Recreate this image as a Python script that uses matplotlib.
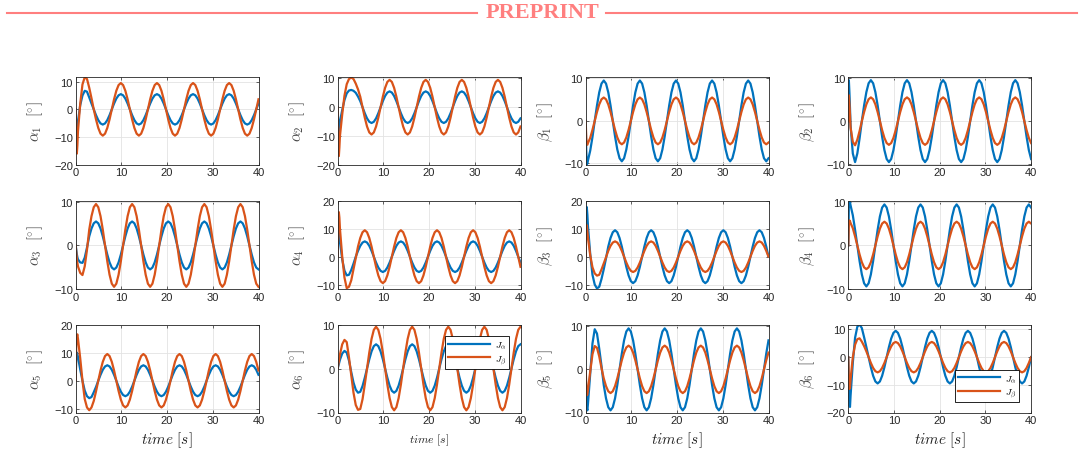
import matplotlib
matplotlib.use("Agg")
import matplotlib.pyplot as plt
from matplotlib.lines import Line2D

plt.rcParams['font.family'] = ['Liberation Sans', 'DejaVu Sans']
plt.rcParams['mathtext.fontset'] = 'cm'

# ---------------- data ----------------
time_s = [0, 0.12, 0.25, 0.37,
          0.494, 0.988, 1.481, 1.975, 2.469, 2.963, 3.457, 3.951, 4.444, 4.938, 5.432, 5.926, 6.42, 6.914, 7.407, 7.901,
          8.395, 8.889, 9.383, 9.877, 10.37, 10.864, 11.358, 11.852, 12.346, 12.84, 13.333, 13.827, 14.321, 14.815, 15.309, 15.802,
          16.296, 16.79, 17.284, 17.778, 18.272, 18.765, 19.259, 19.753, 20.247, 20.741, 21.235, 21.728, 22.222, 22.716, 23.21, 23.704,
          24.198, 24.691, 25.185, 25.679, 26.173, 26.667, 27.16, 27.654, 28.148, 28.642, 29.136, 29.63, 30.123, 30.617, 31.111, 31.605,
          32.099, 32.593, 33.086, 33.58, 34.074, 34.568, 35.062, 35.556, 36.049, 36.543, 37.037, 37.531, 38.025, 38.519, 39.012, 39.506,
          40.0]

alpha1_Ja = [0, -7, -10, -7.5,
             -4.5, 1.5, 5, 6.7, 6.4, 4.3, 2.1, 0, -2.1, -3.89, -5.08, -5.5, -5.08, -3.89, -2.1, 0,
             2.1, 3.89, 5.08, 5.5, 5.08, 3.89, 2.1, 0, -2.1, -3.89, -5.08, -5.5, -5.08, -3.89, -2.1, 0,
             2.1, 3.89, 5.08, 5.5, 5.08, 3.89, 2.1, 0, -2.1, -3.89, -5.08, -5.5, -5.08, -3.89, -2.1, 0,
             2.1, 3.89, 5.08, 5.5, 5.08, 3.89, 2.1, 0, -2.1, -3.89, -5.08, -5.5, -5.08, -3.89, -2.1, 0,
             2.1, 3.89, 5.08, 5.5, 5.08, 3.89, 2.1, 0, -2.1, -3.89, -5.08, -5.5, -5.08, -3.89, -2.1, 0,
             2.1]
alpha1_Jb = [0, -10, -16, -13,
             -8, 2, 9, 11.6, 11.0, 7.8, 4.0, 0, -3.64, -6.72, -8.78, -9.5, -8.78, -6.72, -3.64, 0,
             3.64, 6.72, 8.78, 9.5, 8.78, 6.72, 3.64, 0, -3.64, -6.72, -8.78, -9.5, -8.78, -6.72, -3.64, 0,
             3.64, 6.72, 8.78, 9.5, 8.78, 6.72, 3.64, 0, -3.64, -6.72, -8.78, -9.5, -8.78, -6.72, -3.64, 0,
             3.64, 6.72, 8.78, 9.5, 8.78, 6.72, 3.64, 0, -3.64, -6.72, -8.78, -9.5, -8.78, -6.72, -3.64, 0,
             3.64, 6.72, 8.78, 9.5, 8.78, 6.72, 3.64, 0, -3.64, -6.72, -8.78, -9.5, -8.78, -6.72, -3.64, 0,
             3.64]

alpha2_Ja = [0, -6, -9, -7,
             -5, -1, 2.5, 4.8, 5.8, 6.0, 5.7, 5.0, 3.7, 2.1, 0, -2.1, -3.89, -5.08, -5.5, -5.08,
             -3.89, -2.1, 0, 2.1, 3.89, 5.08, 5.5, 5.08, 3.89, 2.1, 0, -2.1, -3.89, -5.08, -5.5, -5.08,
             -3.89, -2.1, 0, 2.1, 3.89, 5.08, 5.5, 5.08, 3.89, 2.1, 0, -2.1, -3.89, -5.08, -5.5, -5.08,
             -3.89, -2.1, 0, 2.1, 3.89, 5.08, 5.5, 5.08, 3.89, 2.1, 0, -2.1, -3.89, -5.08, -5.5, -5.08,
             -3.89, -2.1, 0, 2.1, 3.89, 5.08, 5.5, 5.08, 3.89, 2.1, 0, -2.1, -3.89, -5.08, -5.5, -5.08,
             -3.89]
alpha2_Jb = [0, -11, -17, -14,
             -10, -2.5, 4, 8, 9.8, 10.3, 9.8, 8.2, 6.2, 3.64, 0, -3.64, -6.72, -8.78, -9.5, -8.78,
             -6.72, -3.64, 0, 3.64, 6.72, 8.78, 9.5, 8.78, 6.72, 3.64, 0, -3.64, -6.72, -8.78, -9.5, -8.78,
             -6.72, -3.64, 0, 3.64, 6.72, 8.78, 9.5, 8.78, 6.72, 3.64, 0, -3.64, -6.72, -8.78, -9.5, -8.78,
             -6.72, -3.64, 0, 3.64, 6.72, 8.78, 9.5, 8.78, 6.72, 3.64, 0, -3.64, -6.72, -8.78, -9.5, -8.78,
             -6.72, -3.64, 0, 3.64, 6.72, 8.78, 9.5, 8.78, 6.72, 3.64, 0, -3.64, -6.72, -8.78, -9.5, -8.78,
             -6.72]

beta1_Ja = [0, -7, -10.2, -10,
            -9.3, -7.0, -3.8, 0, 3.64, 6.72, 8.78, 9.5, 8.78, 6.72, 3.64, 0, -3.64, -6.72, -8.78, -9.5,
            -8.78, -6.72, -3.64, 0, 3.64, 6.72, 8.78, 9.5, 8.78, 6.72, 3.64, 0, -3.64, -6.72, -8.78, -9.5,
            -8.78, -6.72, -3.64, 0, 3.64, 6.72, 8.78, 9.5, 8.78, 6.72, 3.64, 0, -3.64, -6.72, -8.78, -9.5,
            -8.78, -6.72, -3.64, 0, 3.64, 6.72, 8.78, 9.5, 8.78, 6.72, 3.64, 0, -3.64, -6.72, -8.78, -9.5,
            -8.78, -6.72, -3.64, 0, 3.64, 6.72, 8.78, 9.5, 8.78, 6.72, 3.64, 0, -3.64, -6.72, -8.78, -9.5,
            -8.78]
beta1_Jb = [0, -4, -5.5, -5.6,
            -5.2, -4.0, -2.1, 0, 2.1, 3.89, 5.08, 5.5, 5.08, 3.89, 2.1, 0, -2.1, -3.89, -5.08, -5.5,
            -5.08, -3.89, -2.1, 0, 2.1, 3.89, 5.08, 5.5, 5.08, 3.89, 2.1, 0, -2.1, -3.89, -5.08, -5.5,
            -5.08, -3.89, -2.1, 0, 2.1, 3.89, 5.08, 5.5, 5.08, 3.89, 2.1, 0, -2.1, -3.89, -5.08, -5.5,
            -5.08, -3.89, -2.1, 0, 2.1, 3.89, 5.08, 5.5, 5.08, 3.89, 2.1, 0, -2.1, -3.89, -5.08, -5.5,
            -5.08, -3.89, -2.1, 0, 2.1, 3.89, 5.08, 5.5, 5.08, 3.89, 2.1, 0, -2.1, -3.89, -5.08, -5.5,
            -5.08]

beta2_Ja = [0, 9.5, 6.5, 3,
            -1, -7.5, -9.5, -7.5, -4, 0, 3.64, 6.72, 8.78, 9.5, 8.78, 6.72, 3.64, 0, -3.64, -6.72,
            -8.78, -9.5, -8.78, -6.72, -3.64, 0, 3.64, 6.72, 8.78, 9.5, 8.78, 6.72, 3.64, 0, -3.64, -6.72,
            -8.78, -9.5, -8.78, -6.72, -3.64, 0, 3.64, 6.72, 8.78, 9.5, 8.78, 6.72, 3.64, 0, -3.64, -6.72,
            -8.78, -9.5, -8.78, -6.72, -3.64, 0, 3.64, 6.72, 8.78, 9.5, 8.78, 6.72, 3.64, 0, -3.64, -6.72,
            -8.78, -9.5, -8.78, -6.72, -3.64, 0, 3.64, 6.72, 8.78, 9.5, 8.78, 6.72, 3.64, 0, -3.64, -6.72,
            -8.78]
beta2_Jb = [0, 6, 4, 1.5,
            -1.5, -4.8, -5.6, -4.3, -2.3, 0, 2.1, 3.89, 5.08, 5.5, 5.08, 3.89, 2.1, 0, -2.1, -3.89,
            -5.08, -5.5, -5.08, -3.89, -2.1, 0, 2.1, 3.89, 5.08, 5.5, 5.08, 3.89, 2.1, 0, -2.1, -3.89,
            -5.08, -5.5, -5.08, -3.89, -2.1, 0, 2.1, 3.89, 5.08, 5.5, 5.08, 3.89, 2.1, 0, -2.1, -3.89,
            -5.08, -5.5, -5.08, -3.89, -2.1, 0, 2.1, 3.89, 5.08, 5.5, 5.08, 3.89, 2.1, 0, -2.1, -3.89,
            -5.08, -5.5, -5.08, -3.89, -2.1, 0, 2.1, 3.89, 5.08, 5.5, 5.08, 3.89, 2.1, 0, -2.1, -3.89,
            -5.08]

alpha3_Ja = [0, -1, -2, -2.7,
             -3.2, -3.9, -4.0, -2.8, -0.5, 2.1, 3.89, 5.08, 5.5, 5.08, 3.89, 2.1, 0, -2.1, -3.89, -5.08,
             -5.5, -5.08, -3.89, -2.1, 0, 2.1, 3.89, 5.08, 5.5, 5.08, 3.89, 2.1, 0, -2.1, -3.89, -5.08,
             -5.5, -5.08, -3.89, -2.1, 0, 2.1, 3.89, 5.08, 5.5, 5.08, 3.89, 2.1, 0, -2.1, -3.89, -5.08,
             -5.5, -5.08, -3.89, -2.1, 0, 2.1, 3.89, 5.08, 5.5, 5.08, 3.89, 2.1, 0, -2.1, -3.89, -5.08,
             -5.5, -5.08, -3.89, -2.1, 0, 2.1, 3.89, 5.08, 5.5, 5.08, 3.89, 2.1, 0, -2.1, -3.89, -5.08,
             -5.5]
alpha3_Jb = [0, -1.5, -3, -4,
             -4.8, -6.3, -6.8, -4.8, -1, 3.64, 6.72, 8.78, 9.5, 8.78, 6.72, 3.64, 0, -3.64, -6.72, -8.78,
             -9.5, -8.78, -6.72, -3.64, 0, 3.64, 6.72, 8.78, 9.5, 8.78, 6.72, 3.64, 0, -3.64, -6.72, -8.78,
             -9.5, -8.78, -6.72, -3.64, 0, 3.64, 6.72, 8.78, 9.5, 8.78, 6.72, 3.64, 0, -3.64, -6.72, -8.78,
             -9.5, -8.78, -6.72, -3.64, 0, 3.64, 6.72, 8.78, 9.5, 8.78, 6.72, 3.64, 0, -3.64, -6.72, -8.78,
             -9.5, -8.78, -6.72, -3.64, 0, 3.64, 6.72, 8.78, 9.5, 8.78, 6.72, 3.64, 0, -3.64, -6.72, -8.78,
             -9.5]

alpha4_Ja = [0, 9, 10, 8.5,
             5.5, -1, -5, -6.7, -6.5, -4.8, -2.5, 0, 2.1, 3.89, 5.08, 5.5, 5.08, 3.89, 2.1, 0,
             -2.1, -3.89, -5.08, -5.5, -5.08, -3.89, -2.1, 0, 2.1, 3.89, 5.08, 5.5, 5.08, 3.89, 2.1, 0,
             -2.1, -3.89, -5.08, -5.5, -5.08, -3.89, -2.1, 0, 2.1, 3.89, 5.08, 5.5, 5.08, 3.89, 2.1, 0,
             -2.1, -3.89, -5.08, -5.5, -5.08, -3.89, -2.1, 0, 2.1, 3.89, 5.08, 5.5, 5.08, 3.89, 2.1, 0,
             -2.1, -3.89, -5.08, -5.5, -5.08, -3.89, -2.1, 0, 2.1, 3.89, 5.08, 5.5, 5.08, 3.89, 2.1, 0,
             -2.1]
alpha4_Jb = [0, 14, 16, 14,
             10, 0, -7.5, -11.3, -10.8, -8.5, -4.5, -0.5, 3.64, 6.72, 8.78, 9.5, 8.78, 6.72, 3.64, 0,
             -3.64, -6.72, -8.78, -9.5, -8.78, -6.72, -3.64, 0, 3.64, 6.72, 8.78, 9.5, 8.78, 6.72, 3.64, 0,
             -3.64, -6.72, -8.78, -9.5, -8.78, -6.72, -3.64, 0, 3.64, 6.72, 8.78, 9.5, 8.78, 6.72, 3.64, 0,
             -3.64, -6.72, -8.78, -9.5, -8.78, -6.72, -3.64, 0, 3.64, 6.72, 8.78, 9.5, 8.78, 6.72, 3.64, 0,
             -3.64, -6.72, -8.78, -9.5, -8.78, -6.72, -3.64, 0, 3.64, 6.72, 8.78, 9.5, 8.78, 6.72, 3.64, 0,
             -3.64]

beta3_Ja = [0, 18, 17.5, 15,
            11, 1, -6.5, -10, -11.4, -10.8, -8, -4.5, -0.6, 3.64, 6.72, 8.78, 9.5, 8.78, 6.72, 3.64,
            0, -3.64, -6.72, -8.78, -9.5, -8.78, -6.72, -3.64, 0, 3.64, 6.72, 8.78, 9.5, 8.78, 6.72, 3.64,
            0, -3.64, -6.72, -8.78, -9.5, -8.78, -6.72, -3.64, 0, 3.64, 6.72, 8.78, 9.5, 8.78, 6.72, 3.64,
            0, -3.64, -6.72, -8.78, -9.5, -8.78, -6.72, -3.64, 0, 3.64, 6.72, 8.78, 9.5, 8.78, 6.72, 3.64,
            0, -3.64, -6.72, -8.78, -9.5, -8.78, -6.72, -3.64, 0, 3.64, 6.72, 8.78, 9.5, 8.78, 6.72, 3.64,
            0]
beta3_Jb = [0, 11.5, 11, 9,
            7, 0.5, -3.8, -6, -6.8, -6.5, -4.6, -2.4, -0.2, 2.1, 3.89, 5.08, 5.5, 5.08, 3.89, 2.1,
            0, -2.1, -3.89, -5.08, -5.5, -5.08, -3.89, -2.1, 0, 2.1, 3.89, 5.08, 5.5, 5.08, 3.89, 2.1,
            0, -2.1, -3.89, -5.08, -5.5, -5.08, -3.89, -2.1, 0, 2.1, 3.89, 5.08, 5.5, 5.08, 3.89, 2.1,
            0, -2.1, -3.89, -5.08, -5.5, -5.08, -3.89, -2.1, 0, 2.1, 3.89, 5.08, 5.5, 5.08, 3.89, 2.1,
            0, -2.1, -3.89, -5.08, -5.5, -5.08, -3.89, -2.1, 0, 2.1, 3.89, 5.08, 5.5, 5.08, 3.89, 2.1,
            0]

beta4_Ja = [0, 9.8, 10.3, 10,
            9.3, 7.0, 3.64, 0, -3.64, -6.72, -8.78, -9.5, -8.78, -6.72, -3.64, 0, 3.64, 6.72, 8.78, 9.5,
            8.78, 6.72, 3.64, 0, -3.64, -6.72, -8.78, -9.5, -8.78, -6.72, -3.64, 0, 3.64, 6.72, 8.78, 9.5,
            8.78, 6.72, 3.64, 0, -3.64, -6.72, -8.78, -9.5, -8.78, -6.72, -3.64, 0, 3.64, 6.72, 8.78, 9.5,
            8.78, 6.72, 3.64, 0, -3.64, -6.72, -8.78, -9.5, -8.78, -6.72, -3.64, 0, 3.64, 6.72, 8.78, 9.5,
            8.78, 6.72, 3.64, 0, -3.64, -6.72, -8.78, -9.5, -8.78, -6.72, -3.64, 0, 3.64, 6.72, 8.78, 9.5,
            8.78]
beta4_Jb = [0, 5, 5.8, 5.6,
            5.2, 4.0, 2.1, 0, -2.1, -3.89, -5.08, -5.5, -5.08, -3.89, -2.1, 0, 2.1, 3.89, 5.08, 5.5,
            5.08, 3.89, 2.1, 0, -2.1, -3.89, -5.08, -5.5, -5.08, -3.89, -2.1, 0, 2.1, 3.89, 5.08, 5.5,
            5.08, 3.89, 2.1, 0, -2.1, -3.89, -5.08, -5.5, -5.08, -3.89, -2.1, 0, 2.1, 3.89, 5.08, 5.5,
            5.08, 3.89, 2.1, 0, -2.1, -3.89, -5.08, -5.5, -5.08, -3.89, -2.1, 0, 2.1, 3.89, 5.08, 5.5,
            5.08, 3.89, 2.1, 0, -2.1, -3.89, -5.08, -5.5, -5.08, -3.89, -2.1, 0, 2.1, 3.89, 5.08, 5.5,
            5.08]

alpha5_Ja = [0, 9, 10, 9.5,
             8.5, 4, 0, -3.5, -5.5, -6.2, -5.8, -4.1, -2.2, 0, 2.1, 3.89, 5.08, 5.5, 5.08, 3.89,
             2.1, 0, -2.1, -3.89, -5.08, -5.5, -5.08, -3.89, -2.1, 0, 2.1, 3.89, 5.08, 5.5, 5.08, 3.89,
             2.1, 0, -2.1, -3.89, -5.08, -5.5, -5.08, -3.89, -2.1, 0, 2.1, 3.89, 5.08, 5.5, 5.08, 3.89,
             2.1, 0, -2.1, -3.89, -5.08, -5.5, -5.08, -3.89, -2.1, 0, 2.1, 3.89, 5.08, 5.5, 5.08, 3.89,
             2.1, 0, -2.1, -3.89, -5.08, -5.5, -5.08, -3.89, -2.1, 0, 2.1, 3.89, 5.08, 5.5, 5.08, 3.89,
             2.1]
alpha5_Jb = [0, 12, 16, 16.5,
             15, 8, 0, -6.5, -9.5, -10.5, -9.5, -7.2, -3.8, 0, 3.64, 6.72, 8.78, 9.5, 8.78, 6.72,
             3.64, 0, -3.64, -6.72, -8.78, -9.5, -8.78, -6.72, -3.64, 0, 3.64, 6.72, 8.78, 9.5, 8.78, 6.72,
             3.64, 0, -3.64, -6.72, -8.78, -9.5, -8.78, -6.72, -3.64, 0, 3.64, 6.72, 8.78, 9.5, 8.78, 6.72,
             3.64, 0, -3.64, -6.72, -8.78, -9.5, -8.78, -6.72, -3.64, 0, 3.64, 6.72, 8.78, 9.5, 8.78, 6.72,
             3.64, 0, -3.64, -6.72, -8.78, -9.5, -8.78, -6.72, -3.64, 0, 3.64, 6.72, 8.78, 9.5, 8.78, 6.72,
             3.64]

alpha6_Ja = [0, 0.5, 1.0, 1.5,
             2.0, 3.4, 4.0, 3.6, 1.8, -0.8, -3.2, -4.8, -5.5, -5.3, -4.0, -2.1, 0, 2.1, 3.89, 5.08,
             5.5, 5.08, 3.89, 2.1, 0, -2.1, -3.89, -5.08, -5.5, -5.08, -3.89, -2.1, 0, 2.1, 3.89, 5.08,
             5.5, 5.08, 3.89, 2.1, 0, -2.1, -3.89, -5.08, -5.5, -5.08, -3.89, -2.1, 0, 2.1, 3.89, 5.08,
             5.5, 5.08, 3.89, 2.1, 0, -2.1, -3.89, -5.08, -5.5, -5.08, -3.89, -2.1, 0, 2.1, 3.89, 5.08,
             5.5, 5.08, 3.89, 2.1, 0, -2.1, -3.89, -5.08, -5.5, -5.08, -3.89, -2.1, 0, 2.1, 3.89, 5.08,
             5.5]
alpha6_Jb = [0, 0.8, 1.6, 2.4,
             3.2, 5.5, 6.5, 6.0, 2.5, -1.5, -5.5, -8.3, -9.4, -9.2, -7.0, -3.64, 0, 3.64, 6.72, 8.78,
             9.5, 8.78, 6.72, 3.64, 0, -3.64, -6.72, -8.78, -9.5, -8.78, -6.72, -3.64, 0, 3.64, 6.72, 8.78,
             9.5, 8.78, 6.72, 3.64, 0, -3.64, -6.72, -8.78, -9.5, -8.78, -6.72, -3.64, 0, 3.64, 6.72, 8.78,
             9.5, 8.78, 6.72, 3.64, 0, -3.64, -6.72, -8.78, -9.5, -8.78, -6.72, -3.64, 0, 3.64, 6.72, 8.78,
             9.5, 8.78, 6.72, 3.64, 0, -3.64, -6.72, -8.78, -9.5, -8.78, -6.72, -3.64, 0, 3.64, 6.72, 8.78,
             9.5]

beta5_Ja = [0, -6, -9, -9.5,
            -8, -1, 6, 9.3, 8.3, 4.8, 0.8, -3.64, -6.72, -8.78, -9.5, -8.78, -6.72, -3.64, 0, 3.64,
            6.72, 8.78, 9.5, 8.78, 6.72, 3.64, 0, -3.64, -6.72, -8.78, -9.5, -8.78, -6.72, -3.64, 0, 3.64,
            6.72, 8.78, 9.5, 8.78, 6.72, 3.64, 0, -3.64, -6.72, -8.78, -9.5, -8.78, -6.72, -3.64, 0, 3.64,
            6.72, 8.78, 9.5, 8.78, 6.72, 3.64, 0, -3.64, -6.72, -8.78, -9.5, -8.78, -6.72, -3.64, 0, 3.64,
            6.72, 8.78, 9.5, 8.78, 6.72, 3.64, 0, -3.64, -6.72, -8.78, -9.5, -8.78, -6.72, -3.64, 0, 3.64,
            6.72]
beta5_Jb = [0, -4, -6, -5.8,
            -4.8, -0.5, 3.5, 5.4, 5.0, 3.0, 0.3, -2.1, -3.89, -5.08, -5.5, -5.08, -3.89, -2.1, 0, 2.1,
            3.89, 5.08, 5.5, 5.08, 3.89, 2.1, 0, -2.1, -3.89, -5.08, -5.5, -5.08, -3.89, -2.1, 0, 2.1,
            3.89, 5.08, 5.5, 5.08, 3.89, 2.1, 0, -2.1, -3.89, -5.08, -5.5, -5.08, -3.89, -2.1, 0, 2.1,
            3.89, 5.08, 5.5, 5.08, 3.89, 2.1, 0, -2.1, -3.89, -5.08, -5.5, -5.08, -3.89, -2.1, 0, 2.1,
            3.89, 5.08, 5.5, 5.08, 3.89, 2.1, 0, -2.1, -3.89, -5.08, -5.5, -5.08, -3.89, -2.1, 0, 2.1,
            3.89]

beta6_Ja = [0, -12, -17.5, -18,
            -14, -2, 7, 11, 11.8, 10.5, 7.2, 3.64, 0, -3.64, -6.72, -8.78, -9.5, -8.78, -6.72, -3.64,
            0, 3.64, 6.72, 8.78, 9.5, 8.78, 6.72, 3.64, 0, -3.64, -6.72, -8.78, -9.5, -8.78, -6.72, -3.64,
            0, 3.64, 6.72, 8.78, 9.5, 8.78, 6.72, 3.64, 0, -3.64, -6.72, -8.78, -9.5, -8.78, -6.72, -3.64,
            0, 3.64, 6.72, 8.78, 9.5, 8.78, 6.72, 3.64, 0, -3.64, -6.72, -8.78, -9.5, -8.78, -6.72, -3.64,
            0, 3.64, 6.72, 8.78, 9.5, 8.78, 6.72, 3.64, 0, -3.64, -6.72, -8.78, -9.5, -8.78, -6.72, -3.64,
            0]
beta6_Jb = [0, -8, -11.5, -11,
            -8, 0, 4.5, 6.5, 6.8, 5.6, 4.0, 2.1, 0, -2.1, -3.89, -5.08, -5.5, -5.08, -3.89, -2.1,
            0, 2.1, 3.89, 5.08, 5.5, 5.08, 3.89, 2.1, 0, -2.1, -3.89, -5.08, -5.5, -5.08, -3.89, -2.1,
            0, 2.1, 3.89, 5.08, 5.5, 5.08, 3.89, 2.1, 0, -2.1, -3.89, -5.08, -5.5, -5.08, -3.89, -2.1,
            0, 2.1, 3.89, 5.08, 5.5, 5.08, 3.89, 2.1, 0, -2.1, -3.89, -5.08, -5.5, -5.08, -3.89, -2.1,
            0, 2.1, 3.89, 5.08, 5.5, 5.08, 3.89, 2.1, 0, -2.1, -3.89, -5.08, -5.5, -5.08, -3.89, -2.1,
            0]

y_labels = [r'$\alpha_1\ \ [^{\circ}]$', r'$\alpha_2\ \ [^{\circ}]$', r'$\beta_1\ \ [^{\circ}]$', r'$\beta_2\ \ [^{\circ}]$',
            r'$\alpha_3\ \ [^{\circ}]$', r'$\alpha_4\ \ [^{\circ}]$', r'$\beta_3\ \ [^{\circ}]$', r'$\beta_4\ \ [^{\circ}]$',
            r'$\alpha_5\ \ [^{\circ}]$', r'$\alpha_6\ \ [^{\circ}]$', r'$\beta_5\ \ [^{\circ}]$', r'$\beta_6\ \ [^{\circ}]$']
legend_labels = [r'$J_\alpha$', r'$J_\beta$']
x_ticks = [0, 10, 20, 30, 40]

# ---------------- layout / style ----------------
series = [(alpha1_Ja, alpha1_Jb), (alpha2_Ja, alpha2_Jb), (beta1_Ja, beta1_Jb), (beta2_Ja, beta2_Jb),
          (alpha3_Ja, alpha3_Jb), (alpha4_Ja, alpha4_Jb), (beta3_Ja, beta3_Jb), (beta4_Ja, beta4_Jb),
          (alpha5_Ja, alpha5_Jb), (alpha6_Ja, alpha6_Jb), (beta5_Ja, beta5_Jb), (beta6_Ja, beta6_Jb)]
ylims = [(-20, 11.8), (-20, 10.6), (-10.3, 10.4), (-10.1, 10.3),
         (-10, 10.2), (-11.6, 20), (-11.6, 20), (-10.1, 10.3),
         (-11.3, 20), (-10, 10), (-10, 10.4), (-20, 11.8)]
yticks = [[-20, -10, 0, 10], [-20, -10, 0, 10], [-10, 0, 10], [-10, 0, 10],
          [-10, 0, 10], [-10, 0, 10, 20], [-10, 0, 10, 20], [-10, 0, 10],
          [-10, 0, 10, 20], [-10, 0, 10], [-10, 0, 10], [-20, -10, 0, 10]]

W, H = 1084, 456
fig = plt.figure(figsize=(W / 100, H / 100), dpi=100)

col_left = [75.7, 337.7, 585.7, 848.3]
col_w = 182.8
row_top = [77.7, 202.0, 325.5]
row_h = 88.0

blue = '#0072BD'
orange = '#D95319'
axis_col = '#262626'

for i, (ya, yb) in enumerate(series):
    r, c = divmod(i, 4)
    left = col_left[c] / W
    bottom = 1 - (row_top[r] + row_h) / H
    ax = fig.add_axes([left, bottom, col_w / W, row_h / H])
    ax.plot(time_s, ya, color=blue, lw=1.6, label=legend_labels[0])
    ax.plot(time_s, yb, color=orange, lw=1.6, label=legend_labels[1])
    ax.set_xlim(0, 40)
    ax.set_ylim(*ylims[i])
    ax.set_xticks(x_ticks)
    ax.set_yticks(yticks[i])
    ax.grid(True, color='#E3E3E3', lw=0.6)
    ax.set_axisbelow(True)
    ax.tick_params(direction='in', length=2.5, width=0.5, labelsize=8, colors=axis_col,
                   top=True, right=True, pad=2)
    for s in ax.spines.values():
        s.set_color(axis_col)
        s.set_linewidth(0.6)
    ax.set_ylabel(y_labels[i], fontsize=11, color='#444444')
    ax.yaxis.set_label_coords(-0.17, 0.5)
    if r == 2:
        if c == 1:
            ax.set_xlabel(r'$time\ [s]$', fontsize=8.5, color='#222222')
            ax.xaxis.set_label_coords(0.5, -0.22)
        else:
            ax.set_xlabel(r'$time\ [s]$', fontsize=11, color='#222222')
            ax.xaxis.set_label_coords(0.5, -0.19)
    if i == 9:
        leg = ax.legend(loc='upper right', bbox_to_anchor=(0.938, 0.869), fontsize=7,
                        handlelength=4.3, borderpad=0.3, labelspacing=0.25, handletextpad=0.5,
                        fancybox=False, framealpha=1, edgecolor='black', borderaxespad=0)
        leg.get_frame().set_linewidth(0.6)
    if i == 11:
        leg = ax.legend(loc='lower right', bbox_to_anchor=(0.936, 0.116), fontsize=7,
                        handlelength=4.3, borderpad=0.3, labelspacing=0.25, handletextpad=0.5,
                        fancybox=False, framealpha=1, edgecolor='black', borderaxespad=0)
        leg.get_frame().set_linewidth(0.6)

# header
pp_col = '#FF7F7F'
yh = 1 - 14 / H
fig.text(0.5, 1 - 13 / H, 'PREPRINT', ha='center', va='center', color=pp_col,
         fontsize=16, fontweight='bold', family=['Liberation Serif', 'DejaVu Serif'])
fig.add_artist(Line2D([7 / W, 477 / W], [yh, yh], color=pp_col, lw=1.5))
fig.add_artist(Line2D([606 / W, 1077 / W], [yh, yh], color=pp_col, lw=1.5))

fig.savefig('out.png', dpi=100)
